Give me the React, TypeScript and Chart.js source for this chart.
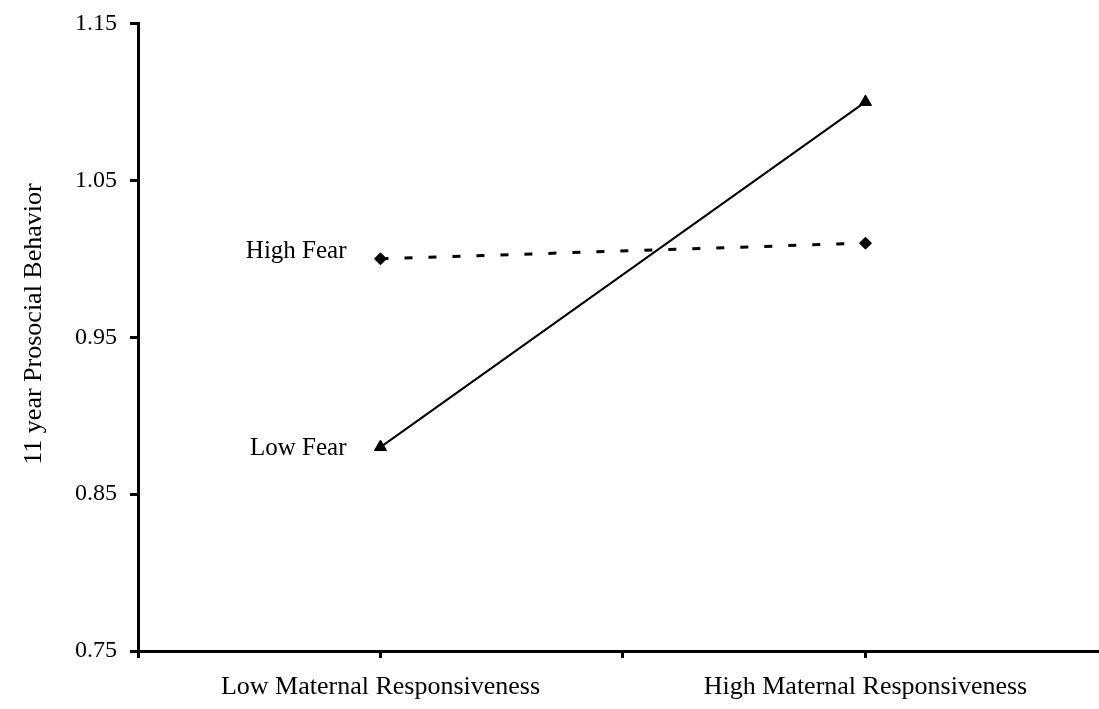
import React, { useEffect, useRef } from "react";
import { Chart, registerables } from "chart.js";

Chart.register(...registerables);

const categories = ["Low Maternal Responsiveness", "High Maternal Responsiveness"];
const categoryPositions = [1, 3];
const highFear = [1.0, 1.01];
const lowFear = [0.88, 1.1];
const seriesNames = ["High Fear", "Low Fear"];
const yTicks = [0.75, 0.85, 0.95, 1.05, 1.15];
const yTitle = "11 year Prosocial Behavior";

const FONT = "'Liberation Serif', 'Times New Roman', serif";

export default function App() {
  const ref = useRef<HTMLCanvasElement | null>(null);
  useEffect(() => {
    if (!ref.current) return;
    const labelsPlugin = {
      id: "extraText",
      afterDraw(chart: any) {
        const ctx = chart.ctx;
        const xs = chart.scales.x;
        const ys = chart.scales.y;
        ctx.save();
        ctx.fillStyle = "#000";
        ctx.font = `26px ${FONT}`;
        // y title
        ctx.save();
        ctx.translate(34, 324);
        ctx.rotate(-Math.PI / 2);
        ctx.textAlign = "center";
        ctx.textBaseline = "middle";
        ctx.fillText(yTitle, 0, 0);
        ctx.restore();
        // series labels next to first points
        ctx.font = `25px ${FONT}`;
        ctx.textAlign = "right";
        ctx.textBaseline = "middle";
        const x0 = xs.getPixelForValue(categoryPositions[0]);
        ctx.fillText(seriesNames[0], x0 - 34, ys.getPixelForValue(highFear[0]) - 7);
        ctx.fillText(seriesNames[1], x0 - 34, ys.getPixelForValue(lowFear[0]) + 1);
        ctx.restore();
      },
    };
    const chart = new Chart(ref.current, {
      type: "line",
      data: {
        datasets: [
          {
            label: seriesNames[0],
            data: categoryPositions.map((x, i) => ({ x, y: highFear[i] })),
            borderColor: "#000",
            backgroundColor: "#000",
            borderWidth: 3,
            borderDash: [8, 16],
            pointStyle: "rectRot",
            pointRadius: 6,
            pointBorderWidth: 1,
          },
          {
            label: seriesNames[1],
            data: categoryPositions.map((x, i) => ({ x, y: lowFear[i] })),
            borderColor: "#000",
            backgroundColor: "#000",
            borderWidth: 2,
            pointStyle: "triangle",
            pointRadius: 7,
            pointBorderWidth: 1,
          },
        ],
      },
      options: {
        responsive: true,
        maintainAspectRatio: false,
        animation: false,
        layout: { autoPadding: false, padding: { top: 23.5, left: 0, right: 0, bottom: 0 } },
        plugins: { legend: { display: false }, tooltip: { enabled: false } },
        scales: {
          x: {
            type: "linear",
            min: 0,
            max: 3.963,
            afterFit: (s: any) => {
              s.height = 58;
              s.paddingLeft = 0;
              s.paddingRight = 0;
            },
            afterBuildTicks: (s: any) => {
              s.ticks = [0, 1, 2, 3].map((v) => ({ value: v }));
            },
            ticks: {
              includeBounds: false,
              stepSize: 1,
              color: "#000",
              font: { family: FONT, size: 26 },
              padding: 14,
              maxRotation: 0,
              autoSkip: false,
              callback: (v: any) => {
                const i = categoryPositions.indexOf(Number(v));
                return i >= 0 ? categories[i] : "";
              },
            },
            grid: {
              drawOnChartArea: false,
              color: "#000",
              lineWidth: 3,
              tickLength: 7,
            },
            border: { color: "#000", width: 3 },
          },
          y: {
            min: 0.75,
            max: 1.15,
            afterFit: (s: any) => {
              s.width = 138;
              s.paddingTop = 0;
              s.paddingBottom = 0;
            },
            afterBuildTicks: (s: any) => {
              s.ticks = yTicks.map((v) => ({ value: v }));
            },
            ticks: {
              color: "#000",
              font: { family: FONT, size: 24 },
              padding: 13,
              callback: (v: any) => Number(v).toFixed(2),
            },
            grid: {
              drawOnChartArea: false,
              color: "#000",
              lineWidth: 3,
              tickLength: 8,
            },
            border: { color: "#000", width: 3 },
          },
        },
      },
      plugins: [labelsPlugin],
    } as any);
    return () => chart.destroy();
  }, []);
  return (
    <div
      style={{
        position: "fixed",
        left: 0,
        top: 0,
        width: "100vw",
        height: "100vh",
        overflow: "hidden",
        background: "#fff",
      }}
    >
      <canvas ref={ref} style={{ display: "block" }} />
    </div>
  );
}
